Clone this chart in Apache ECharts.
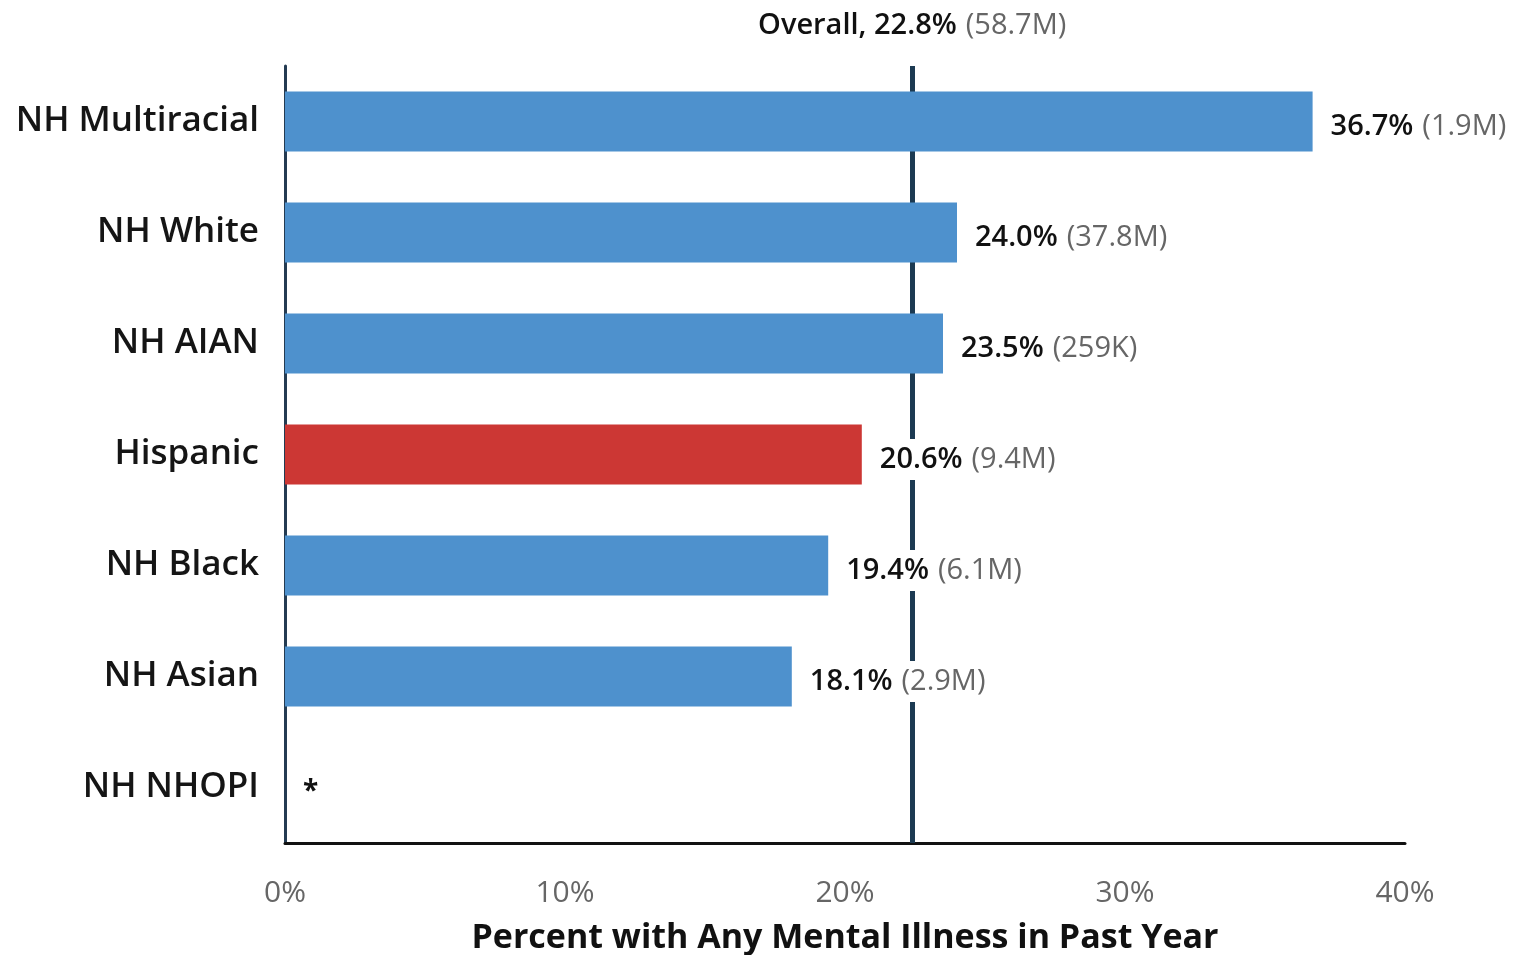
<!DOCTYPE html>
<html>
<head>
<meta charset="utf-8">
<title>Any Mental Illness by Race/Ethnicity</title>
<script src="https://cdn.jsdelivr.net/npm/echarts@6/dist/echarts.min.js"></script>
<style>
  html, body { margin: 0; padding: 0; background: #fff; }
  #chart { width: 1519px; height: 955px; }
</style>
</head>
<body>
<div id="chart"></div>
<script>
// categories, top to bottom
const categories = ['NH Multiracial', 'NH White', 'NH AIAN', 'Hispanic', 'NH Black', 'NH Asian', 'NH NHOPI']
// percent with any mental illness (null = suppressed)
const percents = [36.7, 24.0, 23.5, 20.6, 19.4, 18.1, null]
const counts = ['1.9M', '37.8M', '259K', '9.4M', '6.1M', '2.9M', '']
const highlighted = 'Hispanic'

// overall reference line (drawn position) and its label
const overallLine = 22.4
const overallText = '22.8%'
const overallCount = '58.7M'

const xTicks = [0, 10, 20, 30, 40]

const FONT = '"Open Sans", "Noto Sans", sans-serif'

const chart = echarts.init(document.getElementById('chart'))

const option = {
  animation: false,
  grid: {
    left: 285,
    right: 114,
    top: 66,
    bottom: 112,
    containLabel: false,
    outerBoundsMode: 'none',
  },
  xAxis: {
    type: 'value',
    min: xTicks[0],
    max: xTicks[xTicks.length - 1],
    interval: 10,
    name: 'Percent with Any Mental Illness in Past Year',
    nameLocation: 'middle',
    nameGap: 78,
    nameTextStyle: {
      fontFamily: FONT,
      fontSize: 34,
      fontWeight: 'bold',
      color: '#111',
    },
    axisLabel: {
      formatter: '{value}%',
      fontFamily: FONT,
      fontSize: 30,
      color: '#666',
      margin: 35,
    },
    axisLine: { show: true, onZero: false, lineStyle: { color: '#111', width: 3 } },
    axisTick: { show: false },
    splitLine: { show: false },
  },
  yAxis: {
    type: 'category',
    inverse: true,
    data: categories,
    axisLabel: {
      fontFamily: FONT,
      fontSize: 35,
      fontWeight: 600,
      color: '#151515',
      margin: 26,
      padding: [7, 0, 0, 0],
    },
    axisLine: { lineStyle: { color: '#243b52', width: 3 } },
    axisTick: { show: false },
  },
  series: [
    {
      // reference line sits behind the bars
      type: 'line',
      data: [],
      z: 1,
      silent: true,
      markLine: {
        z: 1,
        symbol: 'none',
        silent: true,
        lineStyle: { color: '#1c3a52', width: 5, type: 'solid' },
        label: {
          position: 'start',
          distance: 26,
          formatter: () => `{b|Overall, ${overallText}}{g|(${overallCount})}`,
          rich: {
            b: { fontFamily: FONT, fontSize: 29, fontWeight: 600, color: '#111' },
            g: { fontFamily: FONT, fontSize: 29, color: '#666', padding: [0, 0, 0, 9] },
          },
        },
        data: [{ xAxis: overallLine }],
      },
    },
    {
      type: 'bar',
      z: 3,
      barWidth: 60,
      data: percents.map((v, i) => ({
        value: v === null ? 0 : v,
        itemStyle: { color: categories[i] === highlighted ? '#cc3734' : '#4e91cd' },
      })),
      label: {
        show: true,
        position: 'right',
        distance: 15,
        backgroundColor: '#fff',
        padding: [6, 3],
        offset: [0, 5],
        formatter: (p) => {
          const v = percents[p.dataIndex]
          if (v === null) return '{s|*}'
          return `{v|${v.toFixed(1)}%}{g|(${counts[p.dataIndex]})}`
        },
        rich: {
          v: { fontFamily: FONT, fontSize: 29, fontWeight: 600, color: '#111' },
          g: { fontFamily: FONT, fontSize: 29, color: '#666', padding: [0, 0, 0, 9] },
          s: { fontFamily: FONT, fontSize: 28, fontWeight: 'bold', color: '#111' },
        },
      },
    },
  ],
}

chart.setOption(option)
</script>
</body>
</html>
